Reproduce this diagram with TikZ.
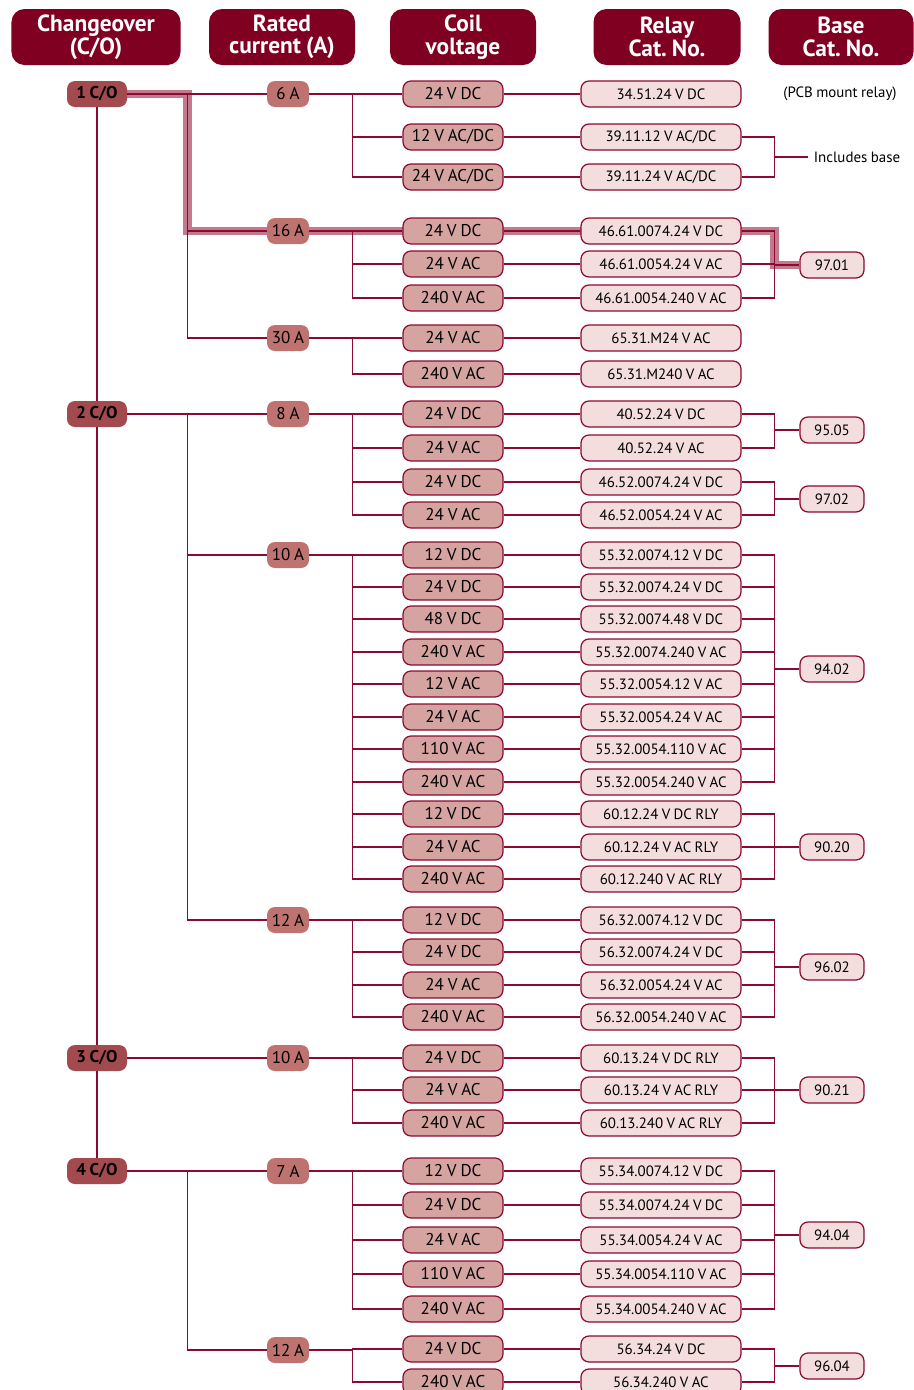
\documentclass[tikz,border=0pt]{standalone}
\usepackage{fontspec}
\setmainfont[WordSpace=0.85]{PT Sans}
\usepackage{tikz}
\pgfdeclarelayer{bg}
\pgfsetlayers{bg,main}
\definecolor{wine}{RGB}{128,0,34}
\definecolor{wline}{RGB}{139,10,50}
\definecolor{cofill}{RGB}{163,74,79}
\definecolor{curfill}{RGB}{190,115,112}
\definecolor{vfill}{RGB}{213,163,160}
\definecolor{rfill}{RGB}{243,222,221}
\definecolor{hlcol}{RGB}{194,122,140}
\tikzset{box/.style={rectangle,rounded corners=1.6mm,minimum height=5.2mm,inner sep=0pt}}
\tikzset{hdr/.style={box,rounded corners=2.6mm,fill=wine,text=white,minimum height=11.2mm,align=center,font=\fontsize{13.3}{12.8}\selectfont\bfseries}}
\tikzset{co/.style={box,fill=cofill,minimum width=12mm,font=\fontsize{9.7}{10}\selectfont\bfseries}}
\tikzset{cur/.style={box,fill=curfill,minimum width=8.4mm,font=\fontsize{9.7}{10}\selectfont}}
\tikzset{volt/.style={box,draw=wline,line width=0.7pt,fill=vfill,minimum width=20mm,font=\fontsize{9.7}{10}\selectfont}}
\tikzset{rly/.style={volt,fill=rfill,minimum width=32mm,font=\fontsize{8.5}{9}\selectfont}}
\tikzset{bnode/.style={rly,minimum width=12.8mm}}
\tikzset{note/.style={font=\fontsize{8.5}{9}\selectfont}}
\tikzset{ln/.style={draw=wline,line width=0.75pt}}
\tikzset{hl/.style={draw=hlcol,line width=5pt}}

\begin{document}
\frenchspacing
\begin{tikzpicture}[x=0.2mm,y=-0.2mm]
      \useasboundingbox (0,0) rectangle (914,1390);
      \node[hdr,minimum width=33.8mm] (h1) at (96,37) {Changeover\\(C/O)};
      \node[hdr,minimum width=29.2mm] (h2) at (282,37) {Rated\\current (A)};
      \node[hdr,minimum width=29.2mm] (h3) at (463,37) {Coil\\voltage};
      \node[hdr,minimum width=29.4mm] (h4) at (667,37) {Relay\\Cat. No.};
      \node[hdr,minimum width=29mm] (h5) at (841,37) {Base\\Cat. No.};
      \node[co] (co1) at (97,94) {1 C/O};
      \node[co] (co2) at (97,414) {2 C/O};
      \node[co] (co3) at (97,1058) {3 C/O};
      \node[co] (co4) at (97,1171) {4 C/O};
      \node[cur] (i6) at (288,94) {6 A};
      \node[cur] (i16) at (288,231) {16 A};
      \node[cur] (i30) at (288,338) {30 A};
      \node[cur] (i8) at (288,414) {8 A};
      \node[cur] (i10) at (288,555) {10 A};
      \node[cur] (i12) at (288,920) {12 A};
      \node[cur] (i10b) at (288,1058) {10 A};
      \node[cur] (i7) at (288,1171) {7 A};
      \node[cur] (i12b) at (288,1350) {12 A};
      \foreach \n/\y/\v/\r in {1/94/24 V DC/34.51.24 V DC,
        2/137/{12 V AC/DC}/{39.11.12 V AC/DC},
        3/177/{24 V AC/DC}/{39.11.24 V AC/DC},
        4/231/24 V DC/46.61.0074.24 V DC,
        5/264/24 V AC/46.61.0054.24 V AC,
        6/298/240 V AC/46.61.0054.240 V AC,
        7/338/24 V AC/65.31.M24 V AC,
        8/374/240 V AC/65.31.M240 V AC,
        9/414/24 V DC/40.52.24 V DC,
        10/448/24 V AC/40.52.24 V AC,
        11/482/24 V DC/46.52.0074.24 V DC,
        12/515/24 V AC/46.52.0054.24 V AC,
        13/555/12 V DC/55.32.0074.12 V DC,
        14/587/24 V DC/55.32.0074.24 V DC,
        15/619/48 V DC/55.32.0074.48 V DC,
        16/652/240 V AC/55.32.0074.240 V AC,
        17/684/12 V AC/55.32.0054.12 V AC,
        18/717/24 V AC/55.32.0054.24 V AC,
        19/749/110 V AC/55.32.0054.110 V AC,
        20/782/240 V AC/55.32.0054.240 V AC,
        21/814/12 V DC/60.12.24 V DC RLY,
        22/847/24 V AC/60.12.24 V AC RLY,
        23/879/240 V AC/60.12.240 V AC RLY,
        24/920/12 V DC/56.32.0074.12 V DC,
        25/952/24 V DC/56.32.0074.24 V DC,
        26/985/24 V AC/56.32.0054.24 V AC,
        27/1017/240 V AC/56.32.0054.240 V AC,
        28/1058/24 V DC/60.13.24 V DC RLY,
        29/1090/24 V AC/60.13.24 V AC RLY,
        30/1123/240 V AC/60.13.240 V AC RLY,
        31/1171/12 V DC/55.34.0074.12 V DC,
        32/1205/24 V DC/55.34.0074.24 V DC,
        33/1240/24 V AC/55.34.0054.24 V AC,
        34/1274/110 V AC/55.34.0054.110 V AC,
        35/1309/240 V AC/55.34.0054.240 V AC,
        36/1349/24 V DC/56.34.24 V DC,
        37/1382/240 V AC/56.34.240 V AC}
      {
        \node[volt] (v\n) at (453,\y) {\v};
        \node[rly] (r\n) at (661,\y) {\r};
      }
      \foreach \n/\y/\t in {1/265/97.01,2/430/95.05,3/499/97.02,4/669/94.02,5/847/90.20,6/967/96.02,7/1090/90.21,8/1235/94.04,9/1366/96.04}
        \node[bnode] (b\n) at (832,\y) {\t};
      \node[note] (pcb) at (840,94) {(PCB mount relay)};
      \node[note] (inc) at (857,157) {Includes base};
      % highlighted route
      \begin{pgfonlayer}{bg}
        \draw[hl] (co1.east) -- +(60,0) |- (r4.east) -- +(33,0) |- (b1.west);
      \end{pgfonlayer}
      \foreach \a/\b in {co1/co2,co2/co3,co3/co4}
        \draw[ln] (\a) -- (\b);
      \foreach \a/\b in {co1/i6,co1/i16,co1/i30,co2/i8,co2/i10,co2/i12,co3/i10b,co4/i7,co4/i12b}
        \draw[ln] (\a.east) -- +(60,0) |- (\b);
      \foreach \a/\l in {i6/{1,2,3},i16/{4,5,6},i30/{7,8},i8/{9,...,12},i10/{13,...,23},i12/{24,...,27},i10b/{28,29,30},i7/{31,...,35},i12b/{36,37}}
        \foreach \b in \l
          \draw[ln] (\a.east) -- +(43,0) |- (v\b);
      \foreach \b in {1,...,37}
        \draw[ln] (v\b) -- (r\b);
      \foreach \a/\l in {inc/{2,3},b1/{4,5,6},b2/{9,10},b3/{11,12},b4/{13,...,20},b5/{21,22,23},b6/{24,...,27},b7/{28,29,30},b8/{31,...,35},b9/{36,37}}
        \foreach \b in \l
          \draw[ln] (r\b.east) -- +(33,0) |- (\a);
    \end{tikzpicture}
\end{document}
